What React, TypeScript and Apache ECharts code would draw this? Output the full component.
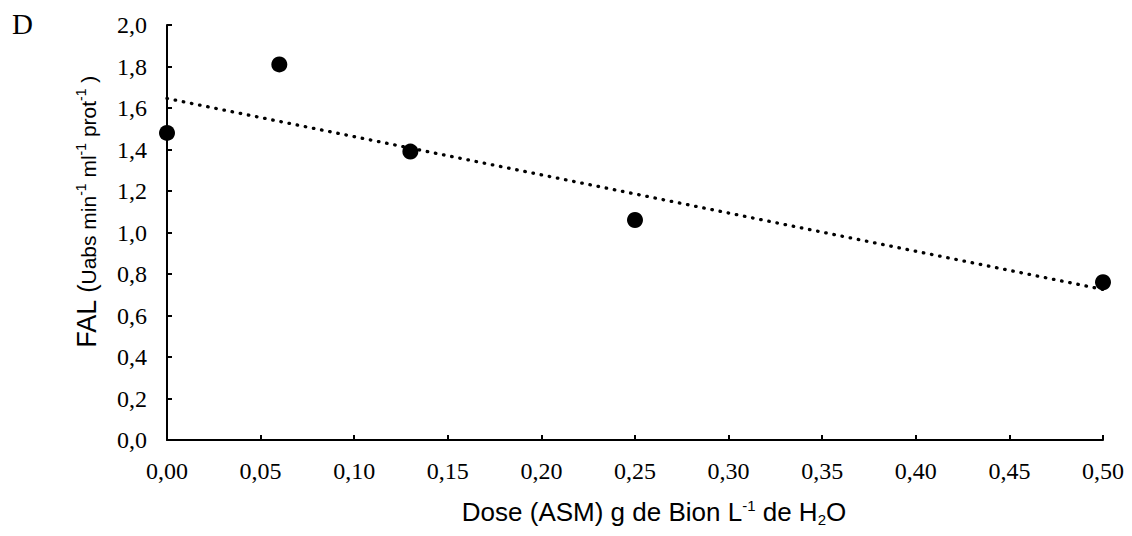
import React, { useEffect, useRef } from "react";
import * as echarts from "echarts";

const doses: number[] = [0, 0.06, 0.13, 0.25, 0.5];
const falValues: number[] = [1.48, 1.81, 1.39, 1.06, 0.76];
const panelLabel = "D";

function linearFit(xs: number[], ys: number[]) {
  const n = xs.length;
  const mx = xs.reduce((a, b) => a + b, 0) / n;
  const my = ys.reduce((a, b) => a + b, 0) / n;
  let sxx = 0;
  let sxy = 0;
  for (let i = 0; i < n; i++) {
    sxx += (xs[i] - mx) * (xs[i] - mx);
    sxy += (xs[i] - mx) * (ys[i] - my);
  }
  const slope = sxy / sxx;
  return { slope, intercept: my - slope * mx };
}

export default function App() {
  const ref = useRef<HTMLDivElement>(null);
  useEffect(() => {
    if (!ref.current) return;
    const chart = echarts.init(ref.current, null, { renderer: "svg" });
    const fit = linearFit(doses, falValues);
    const xMin = Math.min(...doses);
    const xMax = Math.max(...doses);
    const trend = [
      [xMin, fit.intercept + fit.slope * xMin],
      [xMax, fit.intercept + fit.slope * xMax],
    ];
    const serif = "'Liberation Serif', 'Times New Roman', serif";
    const sans = "'Liberation Sans', Arial, sans-serif";
    chart.setOption({
      animation: false,
      backgroundColor: "#ffffff",
      grid: { left: 167, right: 29, top: 25, bottom: 96, containLabel: false },
      xAxis: {
        type: "value",
        min: 0,
        max: 0.5,
        interval: 0.05,
        axisLine: { show: true, lineStyle: { color: "#000", width: 2 } },
        axisTick: { show: true, inside: true, length: 5, lineStyle: { color: "#000", width: 2 } },
        splitLine: { show: false },
        axisLabel: {
          color: "#000",
          fontFamily: serif,
          fontSize: 24,
          margin: 19,
          formatter: (v: number) => v.toFixed(2).replace(".", ","),
        },
      },
      yAxis: {
        type: "value",
        min: 0,
        max: 2,
        interval: 0.2,
        axisLine: { show: true, lineStyle: { color: "#000", width: 2 } },
        axisTick: { show: true, inside: true, length: 5, lineStyle: { color: "#000", width: 2 } },
        splitLine: { show: false },
        axisLabel: {
          color: "#000",
          fontFamily: serif,
          fontSize: 24,
          margin: 20,
          formatter: (v: number) => v.toFixed(1).replace(".", ","),
        },
      },
      series: [
        {
          type: "line",
          data: trend,
          showSymbol: false,
          symbol: "none",
          silent: true,
          lineStyle: { color: "#000", width: 3.3, type: [0.5, 7.8], cap: "round" },
          z: 1,
        },
        {
          type: "scatter",
          data: doses.map((d, i) => [d, falValues[i]]),
          symbol: "circle",
          symbolSize: 16,
          itemStyle: { color: "#000", opacity: 1 },
          z: 2,
        },
      ],
      graphic: [
        {
          type: "text",
          left: 12,
          top: 9,
          style: { text: panelLabel, fontFamily: serif, fontSize: 29, fill: "#000" },
        },
        {
          type: "text",
          x: 87,
          y: 212,
          rotation: Math.PI / 2,
          style: {
            text: "{big|FAL }{par|(}{n|Uabs min}{sup|-1}{n| ml}{sup|-1}{n| prot}{sup|-1}{n| )}",
            align: "center",
            verticalAlign: "middle",
            fill: "#000",
            fontFamily: sans,
            rich: {
              big: { fontSize: 27, fontFamily: sans, lineHeight: 32, verticalAlign: "middle" },
              par: { fontSize: 25, fontFamily: sans, lineHeight: 32, verticalAlign: "middle" },
              n: { fontSize: 21, fontFamily: sans, lineHeight: 32, verticalAlign: "middle", padding: [3, 0, 0, 0] },
              sup: { fontSize: 14, fontFamily: sans, lineHeight: 15, verticalAlign: "top", padding: [3, 0, 0, 0] },
            },
          },
        },
        {
          type: "text",
          x: 654,
          y: 512,
          style: {
            text: "{n|Dose (ASM) g de Bion L}{sup|-1}{n| de H}{sub|2}{n|O}",
            align: "center",
            verticalAlign: "middle",
            fill: "#000",
            fontFamily: sans,
            rich: {
              n: { fontSize: 26, fontFamily: sans, lineHeight: 30, verticalAlign: "middle" },
              sup: { fontSize: 15, fontFamily: sans, lineHeight: 16, verticalAlign: "top", padding: [1, 0, 0, 0] },
              sub: { fontSize: 15, fontFamily: sans, lineHeight: 16, verticalAlign: "bottom" },
            },
          },
        },
      ],
    });
    return () => chart.dispose();
  }, []);
  return (
    <div
      ref={ref}
      style={{ position: "fixed", left: 0, top: 0, width: 1132, height: 536, background: "#fff" }}
    />
  );
}
